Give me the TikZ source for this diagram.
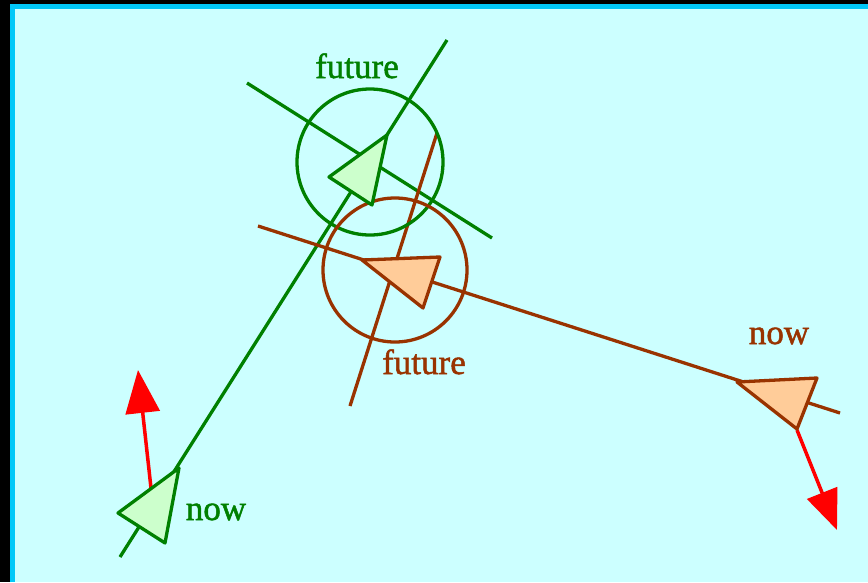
\documentclass[tikz,border=0pt]{standalone}
\usepackage{fontspec}
\setmainfont{Liberation Serif}
\usetikzlibrary{arrows.meta}

\font\tagfont="Liberation Serif:embolden=1.4" at 35pt

\definecolor{skyback}{HTML}{CCFFFF}
\definecolor{frameblue}{HTML}{00C8F8}
\definecolor{leafgreen}{HTML}{008000}
\definecolor{leaffill}{HTML}{CCFFCC}
\definecolor{rustbrown}{HTML}{993300}
\definecolor{rustfill}{HTML}{FFCC99}

\tikzset{
  track/.style={line width=3.3pt},
  body/.style={line width=3.3pt, line join=round},
  velo/.style={red, line width=3.5pt, -{Triangle[length=43pt,width=34pt]}},
  tag/.style={anchor=base, inner sep=0pt, font=\tagfont},
}

\begin{document}
\begin{tikzpicture}[x=1pt,y=-1pt]
    % Fundo e moldura
    \useasboundingbox (0,0) rectangle (868,582);
    \fill[black] (0,0) rectangle (868,582);
    \fill[skyback] (10,4) rectangle (868,582);
    \draw[frameblue, line width=5pt] (12.5,582) -- (12.5,6.5) -- (868,6.5);

    % Pontos de referencia
    \coordinate (gA) at (120,557);
    \coordinate (gB) at (447,40);
    \coordinate (gC) at (247,83);
    \coordinate (gD) at (492,238);
    \coordinate (bA) at (258,226);
    \coordinate (bB) at (840,413);
    \coordinate (bC) at (350,406);
    \coordinate (bD) at (437,133);
    \coordinate (gF) at (370,162);
    \coordinate (bF) at (395,270);

    % Trajetorias
    \draw[track, leafgreen] (gA) -- (gB);
    \draw[track, leafgreen] (gC) -- (gD);
    \draw[track, rustbrown] (bA) -- (bB);
    \draw[track, rustbrown] (bC) -- (bD);

    % Regioes futuras
    \draw[track, leafgreen] (gF) circle (73);
    \draw[track, rustbrown] (bF) circle (72);

    % Velocidades
    \coordinate (gV0) at (151,488);
    \coordinate (gV1) at (138,370);
    \coordinate (bV0) at (797,430);
    \coordinate (bV1) at (837,530);
    \draw[velo] (gV0) -- (gV1);
    \draw[velo, -{Triangle[length=40pt,width=32pt]}] (bV0) -- (bV1);

    % Naves
    \draw[body, leafgreen, fill=leaffill] (118,513) -- (179,468) -- (165,543) -- cycle;
    \draw[body, leafgreen, fill=leaffill] (329,177) -- (387,135) -- (372,205) -- cycle;
    \draw[body, rustbrown, fill=rustfill] (362,260) -- (440,257) -- (423,308) -- cycle;
    \draw[body, rustbrown, fill=rustfill] (737,382) -- (817,378) -- (797,429) -- cycle;

    % Rotulos
    \node[tag, leafgreen] (gfut) at (357,78) {future};
    \node[tag, leafgreen] (gnow) at (216,520) {now};
    \node[tag, rustbrown] (bfut) at (424,374) {future};
    \node[tag, rustbrown] (bnow) at (779,344) {now};
\end{tikzpicture}
\end{document}
